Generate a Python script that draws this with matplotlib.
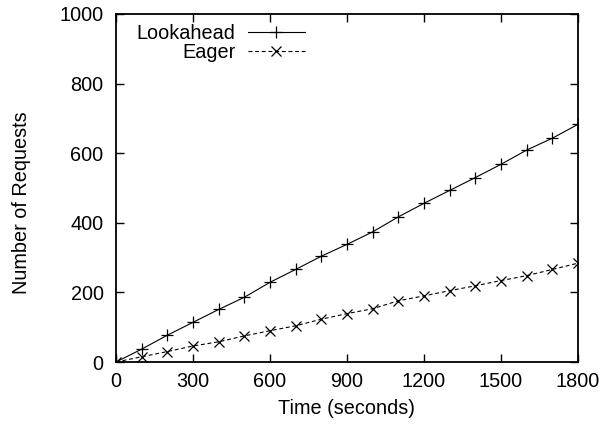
import matplotlib
matplotlib.use("Agg")
import matplotlib.pyplot as plt

plt.rcParams['font.family'] = ['Liberation Sans', 'DejaVu Sans']

time_s = [0, 100, 200, 300, 400, 500, 600, 700, 800, 900, 1000, 1100, 1200,
          1300, 1400, 1500, 1600, 1700, 1800]
lookahead = [0, 37, 77, 114, 151, 186, 229, 266, 304, 338, 374, 417, 456,
             493, 530, 568, 609, 643, 683]
eager = [0, 15, 30, 46, 58, 75, 90, 104, 123, 139, 153, 176, 190,
         205, 219, 234, 248, 266, 284]
x_ticks = [0, 300, 600, 900, 1200, 1500, 1800]
y_ticks = [0, 200, 400, 600, 800, 1000]

FS = 14.3

fig = plt.figure(figsize=(6.03, 4.24), dpi=100)
ax = fig.add_axes([116/603, 62/424, (578-116)/603, (362-14)/424])

ax.plot(time_s, lookahead, color='black', lw=0.8, marker='+', ms=8, mew=0.9,
        label='Lookahead')
ax.plot(time_s, eager, color='black', lw=0.8, ls=(0, (3.5, 2.5)), marker='x',
        ms=6.5, mew=0.9, label='Eager')

ax.set_xlim(0, 1800)
ax.set_ylim(0, 1000)
ax.set_xticks(x_ticks)
ax.set_yticks(y_ticks)
ax.tick_params(direction='in', length=6, width=1, top=True, right=True,
               labelsize=FS, color='black')
ax.tick_params(axis='x', pad=7)
ax.tick_params(axis='y', pad=9)
for s in ax.spines.values():
    s.set_linewidth(1.3)

ax.set_xlabel('Time (seconds)', fontsize=FS, labelpad=6)
ax.set_ylabel('Number of Requests', fontsize=FS)
ax.yaxis.set_label_coords((31 - 116) / 462, (362 - 203) / 348)

leg = ax.legend(loc='upper left', bbox_to_anchor=(0.015, 1.012), frameon=False,
                markerfirst=False, fontsize=FS, handlelength=2.9,
                handletextpad=0.6, labelspacing=0.0, borderpad=0.2)
try:
    for col in leg._legend_handle_box.get_children():
        col.align = 'right'
except Exception:
    pass

fig.savefig('out.png', dpi=100)
